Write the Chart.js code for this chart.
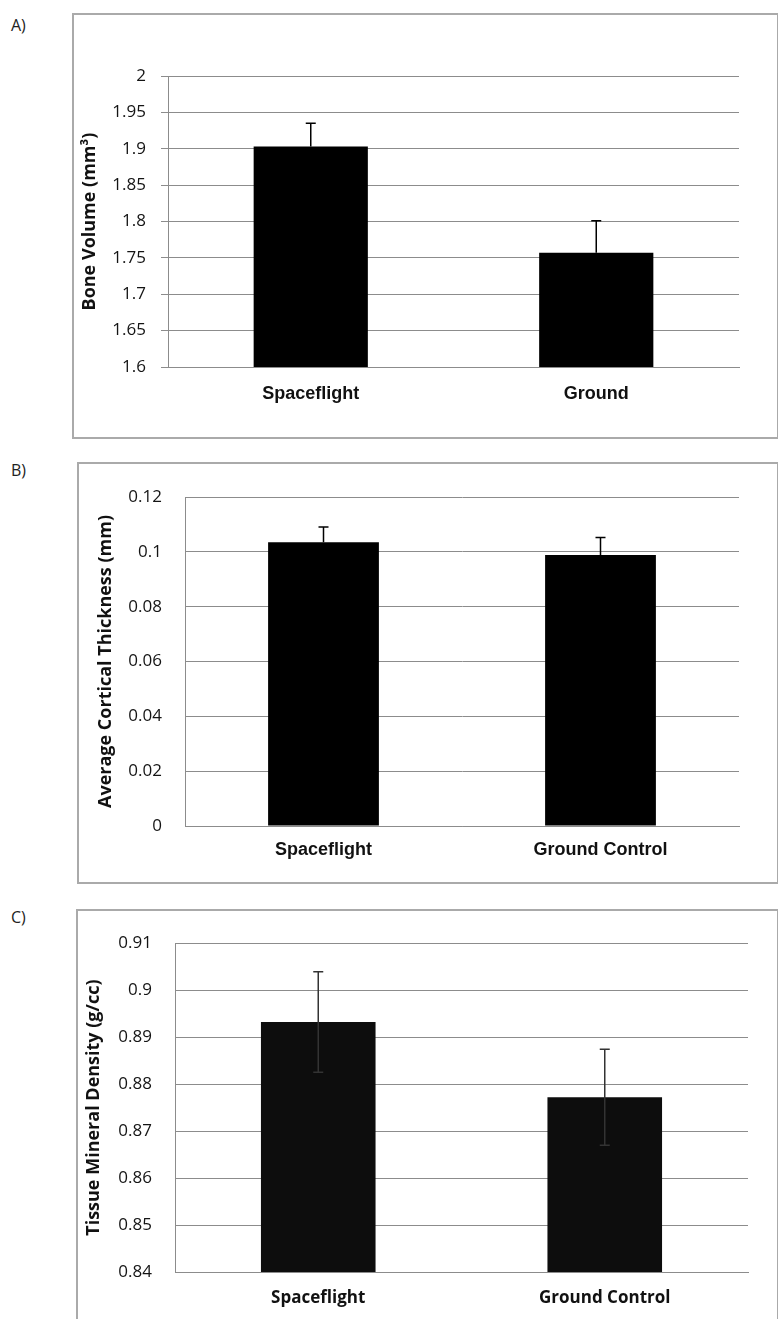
<!DOCTYPE html>
<html><head><meta charset="utf-8">
<script src="https://cdn.jsdelivr.net/npm/chart.js@4.4.0/dist/chart.umd.min.js"></script>
<style>
html,body{margin:0;padding:0;background:#fff;}
#page{position:relative;width:778px;height:1319px;overflow:hidden;background:#fff;}
.box{position:absolute;border:2px solid #aaaaaa;box-sizing:border-box;}
.lbl{position:absolute;font-family:"Open Sans";font-size:16px;color:#222;line-height:20px;}
canvas{position:absolute;}
</style></head><body>
<div id="page">
  <div class="lbl" style="left:11px;top:15px">A)</div>
  <div class="lbl" style="left:11px;top:460px">B)</div>
  <div class="lbl" style="left:11px;top:907px">C)</div>
  <div class="box" style="left:72px;top:13px;width:707px;height:426px"></div>
  <div class="box" style="left:77px;top:462px;width:702px;height:422px"></div>
  <div class="box" style="left:76px;top:909px;width:703px;height:430px"></div>
  <canvas id="cA" width="704" height="424" style="left:73px;top:14px;width:704px;height:424px"></canvas>
  <canvas id="cB" width="699" height="420" style="left:78px;top:463px;width:699px;height:420px"></canvas>
  <canvas id="cC" width="700" height="409" style="left:77px;top:910px;width:700px;height:409px"></canvas>
</div>
<script>
// ---- Data ----
const catsA = ['Spaceflight', 'Ground'];
const valsA = [1.903, 1.757];
const errA = [0.032, 0.044];
const tickValsA = [1.6, 1.65, 1.7, 1.75, 1.8, 1.85, 1.9, 1.95, 2];
const tickLabelsA = ['1.6', '1.65', '1.7', '1.75', '1.8', '1.85', '1.9', '1.95', '2'];
const titleA = 'Bone Volume (mm³)';

const catsB = ['Spaceflight', 'Ground Control'];
const valsB = [0.1035, 0.0988];
const errB = [0.0056, 0.0064];
const tickValsB = [0, 0.02, 0.04, 0.06, 0.08, 0.1, 0.12];
const tickLabelsB = ['0', '0.02', '0.04', '0.06', '0.08', '0.1', '0.12'];
const titleB = 'Average Cortical Thickness (mm)';

const catsC = ['Spaceflight', 'Ground Control'];
const valsC = [0.8932, 0.8772];
const errC = [0.0107, 0.0102];
const tickValsC = [0.84, 0.85, 0.86, 0.87, 0.88, 0.89, 0.9, 0.91];
const tickLabelsC = ['0.84', '0.85', '0.86', '0.87', '0.88', '0.89', '0.9', '0.91'];
const titleC = 'Tissue Mineral Density (g/cc)';

// ---- Error bar plugin ----
const errPlugin = {
  id: 'errbars',
  afterDatasetsDraw(chart, args, opts) {
    const meta = chart.getDatasetMeta(0);
    const ys = chart.scales.y;
    const ctx = chart.ctx;
    const data = chart.data.datasets[0].data;
    ctx.save();
    ctx.strokeStyle = opts.color;
    ctx.lineWidth = opts.width;
    meta.data.forEach((bar, i) => {
      const v = data[i], e = opts.errors[i];
      const yTop = ys.getPixelForValue(v + e);
      const yBot = opts.both ? ys.getPixelForValue(v - e) : bar.y;
      ctx.beginPath();
      ctx.moveTo(bar.x, yTop); ctx.lineTo(bar.x, yBot);
      ctx.moveTo(bar.x - opts.cap, yTop); ctx.lineTo(bar.x + opts.cap, yTop);
      if (opts.both) { ctx.moveTo(bar.x - opts.cap, yBot); ctx.lineTo(bar.x + opts.cap, yBot); }
      ctx.stroke();
    });
    ctx.restore();
  }
};

const GRID = '#8c8c8c';

function makeChart(id, c) {
  return new Chart(document.getElementById(id), {
    type: 'bar',
    data: {
      labels: c.cats,
      datasets: [{ data: c.vals, backgroundColor: c.barColor, borderWidth: 0,
                   barPercentage: 0.4, categoryPercentage: 1.0 }]
    },
    options: {
      responsive: false,
      animation: false,
      layout: { padding: c.pad },
      plugins: {
        legend: { display: false },
        tooltip: { enabled: false },
        errbars: c.err
      },
      scales: {
        x: {
          afterFit: s => { s.height = c.xH; },
          grid: { display: false, drawTicks: false },
          border: { display: true, color: GRID, width: 1 },
          ticks: { font: c.xFont, color: '#111', padding: c.xPad, maxRotation: 0 }
        },
        y: {
          min: c.tickVals[0],
          max: c.tickVals[c.tickVals.length - 1],
          afterBuildTicks: s => { s.ticks = c.tickVals.map(v => ({ value: v })); },
          afterFit: s => { s.width = c.yW; },
          ticks: {
            callback: v => c.tickLabels[c.tickVals.indexOf(v)],
            font: { family: 'Open Sans', size: 17 },
            color: '#141414',
            padding: c.yPad
          },
          grid: { color: GRID, lineWidth: 1, drawTicks: c.drawTicks, tickLength: c.tickLen },
          border: { color: GRID, width: 1 },
          title: {
            display: true, text: c.title, color: '#111',
            font: { family: 'Open Sans', size: 18, weight: 'bold' },
            padding: { top: c.titlePad, bottom: 0 }
          }
        }
      }
    },
    plugins: [errPlugin]
  });
}

makeChart('cA', {
  cats: catsA, vals: valsA, tickVals: tickValsA, tickLabels: tickLabelsA, title: titleA,
  barColor: '#000',
  pad: { left: 0, top: 62, right: 38, bottom: 0 },
  xH: 71, yW: 95, xPad: 16, yPad: 15, drawTicks: true, tickLen: 7, titlePad: 6,
  xFont: { family: 'Liberation Sans', size: 18, weight: 'bold' },
  err: { errors: errA, both: false, color: '#000', width: 1.5, cap: 5 }
});

makeChart('cB', {
  cats: catsB, vals: valsB, tickVals: tickValsB, tickLabels: tickLabelsB, title: titleB,
  barColor: '#000',
  pad: { left: 0, top: 34, right: 38, bottom: 0 },
  xH: 57, yW: 107, xPad: 13, yPad: 23, drawTicks: false, tickLen: 0, titlePad: 17,
  xFont: { family: 'Liberation Sans', size: 18, weight: 'bold' },
  err: { errors: errB, both: false, color: '#000', width: 1.5, cap: 5 }
});

makeChart('cC', {
  cats: catsC, vals: valsC, tickVals: tickValsC, tickLabels: tickLabelsC, title: titleC,
  barColor: '#0d0d0d',
  pad: { left: 0, top: 20, right: 29, bottom: 0 },
  xH: 47, yW: 98, xPad: 16, yPad: 23, drawTicks: false, tickLen: 0, titlePad: 6,
  xFont: { family: 'Open Sans', size: 17, weight: 'bold' },
  err: { errors: errC, both: true, color: '#333', width: 1.5, cap: 5 }
});
</script>
</body></html>
